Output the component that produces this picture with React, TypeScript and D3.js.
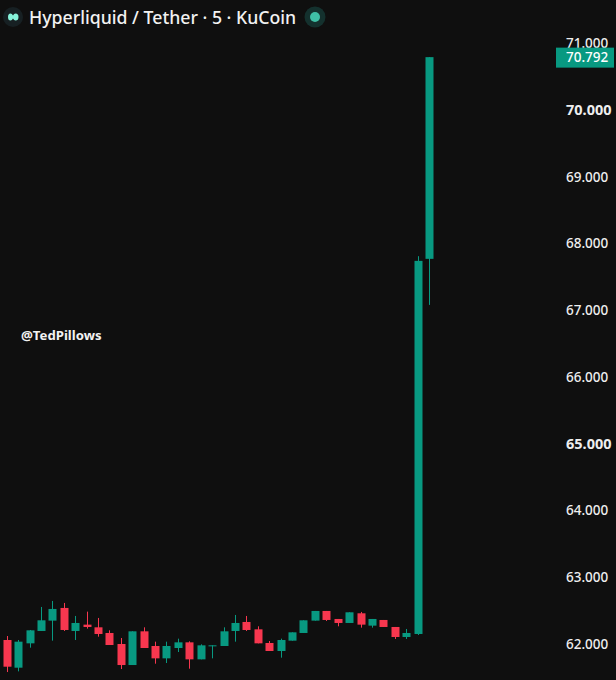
import React, { useEffect, useRef } from 'react';
import * as d3 from 'd3';

// candle prices, first one is cut by the left edge
const opens = [62.0, 62.06, 61.645, 62.01, 62.195, 62.35, 62.54, 62.195, 62.29, 62.25, 62.165, 62.0, 61.685, 62.19, 61.97, 61.785, 61.94, 62.025, 61.77, 61.97, 61.97, 62.195, 62.33, 62.22, 62.015, 61.895, 62.05, 62.165, 62.35, 62.495, 62.375, 62.315, 62.46, 62.275, 62.36, 62.255, 62.105, 62.15, 67.77];
const highs = [62.08, 62.12, 62.06, 62.21, 62.555, 62.645, 62.615, 62.42, 62.485, 62.39, 62.205, 62.09, 62.19, 62.25, 62.035, 62.035, 62.08, 62.04, 61.995, 61.98, 62.25, 62.435, 62.42, 62.265, 62.045, 62.08, 62.175, 62.355, 62.495, 62.495, 62.375, 62.475, 62.48, 62.375, 62.36, 62.255, 62.225, 67.81, 70.792];
const lows = [61.98, 61.58, 61.59, 61.945, 62.195, 62.05, 62.195, 62.06, 62.23, 62.11, 61.985, 61.625, 61.685, 61.94, 61.705, 61.715, 61.88, 61.63, 61.77, 61.785, 61.97, 62.035, 62.195, 62.01, 61.895, 61.795, 62.05, 62.165, 62.35, 62.345, 62.265, 62.315, 62.245, 62.245, 62.255, 62.075, 62.075, 62.135, 67.08];
const closes = [62.06, 61.66, 62.035, 62.205, 62.355, 62.525, 62.21, 62.315, 62.255, 62.15, 61.985, 61.685, 62.19, 61.94, 61.785, 61.97, 62.025, 61.77, 61.98, 61.98, 62.19, 62.315, 62.21, 62.01, 61.895, 62.06, 62.175, 62.355, 62.495, 62.36, 62.315, 62.475, 62.29, 62.375, 62.255, 62.105, 62.165, 67.74, 70.792];

const priceTicks = [62, 63, 64, 65, 66, 67, 68, 69, 70, 71];
const boldTicks = [65, 70];
const lastPrice = 70.792;
const title = 'Hyperliquid / Tether · 5 · KuCoin';
const watermark = '@TedPillows';

const width = 616;
const height = 680;
const bg = '#0f0f0f';
const up = '#089981';
const down = '#f7374f';

export default function App() {
  const svgRef = useRef<SVGSVGElement>(null);

  useEffect(() => {
    if (!svgRef.current) return;

    const svg = d3.select(svgRef.current);
    svg.selectAll('*').remove();

    const x = d3.scaleLinear().domain([0, opens.length - 1]).range([-4.7, 429]);
    const y = d3.scaleLinear().domain([62, 71]).range([644, 43.25]);
    const bodyWidth = 8;

    svg.append('rect').attr('width', width).attr('height', height).attr('fill', bg);

    // Candles
    const candles = svg
      .selectAll('g.candle')
      .data(d3.range(opens.length))
      .enter()
      .append('g')
      .attr('class', 'candle');

    const colour = (i: number) => (closes[i] >= opens[i] ? up : down);

    candles
      .append('line')
      .attr('x1', i => Math.round(x(i)) + 0.5)
      .attr('x2', i => Math.round(x(i)) + 0.5)
      .attr('y1', i => y(highs[i]))
      .attr('y2', i => y(lows[i]))
      .attr('stroke', colour)
      .attr('stroke-width', 1);

    candles
      .append('rect')
      .attr('x', i => Math.round(x(i)) + 0.5 - bodyWidth / 2)
      .attr('width', bodyWidth)
      .attr('y', i => y(Math.max(opens[i], closes[i])))
      .attr('height', i => Math.max(1, Math.abs(y(opens[i]) - y(closes[i]))))
      .attr('fill', colour);

    // Price axis
    const axis = svg
      .append('g')
      .attr('transform', 'translate(566, 0)')
      .call(d3.axisRight(y).tickValues(priceTicks).tickSize(0).tickPadding(0).tickFormat(d3.format('.3f')));
    axis.select('.domain').remove();
    axis
      .selectAll<SVGTextElement, number>('text')
      .attr('fill', '#eeeeee')
      .attr('font-size', d => (boldTicks.includes(d) ? '14.5px' : '13.5px'))
      .attr('font-weight', d => (boldTicks.includes(d) ? 700 : 500))
      .attr('font-family', 'Noto Sans, sans-serif');

    // Last price tag
    svg
      .append('rect')
      .attr('x', 556)
      .attr('y', y(lastPrice) - 9.5)
      .attr('width', 58)
      .attr('height', 20)
      .attr('fill', up);
    svg
      .append('text')
      .attr('x', 566)
      .attr('y', y(lastPrice))
      .attr('dy', '0.35em')
      .attr('fill', '#ffffff')
      .attr('font-size', '13.5px')
      .attr('font-weight', 500)
      .attr('font-family', 'Noto Sans, sans-serif')
      .text(d3.format('.3f')(lastPrice));

    // Header
    svg.append('circle').attr('cx', 13).attr('cy', 17).attr('r', 10).attr('fill', '#172023');
    svg
      .append('path')
      .attr('d', 'M8 17 Q8 13.5 10.5 13.5 Q12 13.5 13 15.5 Q14 13.5 15.5 13.5 Q18.5 13.5 18.5 17 Q18.5 20.5 15.5 20.5 Q14 20.5 13 18.5 Q12 20.5 10.5 20.5 Q8 20.5 8 17 Z')
      .attr('fill', '#86f3da');
    svg
      .append('text')
      .attr('x', 29)
      .attr('y', 24)
      .attr('fill', '#f2f2f2')
      .attr('font-size', '17.7px')
      .attr('font-weight', 500)
      .attr('font-family', 'Noto Sans, sans-serif')
      .text(title);
    svg.append('circle').attr('cx', 315).attr('cy', 17).attr('r', 10.5).attr('fill', '#14312e');
    svg.append('circle').attr('cx', 315).attr('cy', 17).attr('r', 5).attr('fill', '#3fbfa6');

    // Watermark
    svg
      .append('text')
      .attr('x', 21)
      .attr('y', 340)
      .attr('fill', '#f2f2f2')
      .attr('font-size', '13.2px')
      .attr('font-weight', 700)
      .attr('font-family', 'Noto Sans, sans-serif')
      .text(watermark);
  }, []);

  return (
    <svg
      ref={svgRef}
      width={width}
      height={height}
      style={{ position: 'absolute', left: 0, top: 0, display: 'block' }}
    ></svg>
  );
}
